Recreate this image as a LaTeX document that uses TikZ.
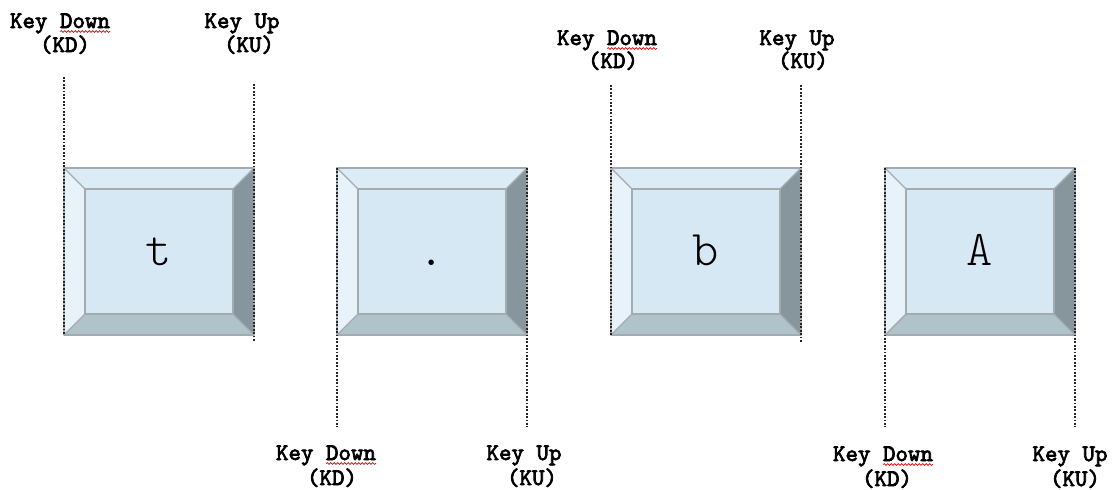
\documentclass[tikz,border=0pt]{standalone}
\usepackage{fontspec}
\usetikzlibrary{decorations.pathmorphing}

\newfontfamily\lblfont{lmmono10-regular.otf}[FakeBold=3]
\newfontfamily\glyphfont{lmmonolt10-regular.otf}

\definecolor{bevtop}{HTML}{DCECF6}
\definecolor{bevleft}{HTML}{E7F2FA}
\definecolor{bevright}{HTML}{87959C}
\definecolor{bevbottom}{HTML}{B1C3CA}
\definecolor{keyface}{HTML}{D5E8F4}
\definecolor{keyedge}{HTML}{A3ABAF}
\definecolor{guideink}{HTML}{262626}

\tikzset{
  bevel/.style={draw=keyedge, line width=1.4pt, line join=round},
  guide/.style={draw=guideink, line width=1.6pt, dash pattern=on 1.7pt off 1.7pt},
  lbl/.style={font=\lblfont\fontsize{23.8}{26}\selectfont, inner sep=0pt, anchor=base},
  keyglyph/.style={font=\glyphfont\fontsize{50}{50}\selectfont, inner sep=0pt, anchor=base},
  spell/.style={draw=red!85!black, line width=0.7pt, decorate,
    decoration={snake, amplitude=0.9pt, segment length=3.5pt}}
}

% one bevelled key: #1 name, #2 left edge, #3 glyph
\newcommand\keycap[3]{%
  \begin{scope}[shift={(#2,168)}]
    \coordinate (#1-tl) at (0,0);
    \coordinate (#1-tr) at (190,0);
    \coordinate (#1-bl) at (0,167);
    \coordinate (#1-br) at (190,167);
    \fill[bevtop] (0,0) -- (190,0) -- (169,21) -- (21,21) -- cycle;
    \fill[bevleft] (0,0) -- (21,21) -- (21,146) -- (0,167) -- cycle;
    \fill[bevright] (190,0) -- (190,167) -- (169,146) -- (169,21) -- cycle;
    \fill[bevbottom] (0,167) -- (190,167) -- (169,146) -- (21,146) -- cycle;
    \fill[keyface] (21,21) rectangle (169,146);
    \draw[bevel] (0,0) rectangle (190,167);
    \draw[bevel] (21,21) rectangle (169,146);
    \draw[bevel] (0,0) -- (21,21) (190,0) -- (169,21)
                 (0,167) -- (21,146) (190,167) -- (169,146);
    \node[keyglyph] (#1-glyph) at (95,97) {#3};
  \end{scope}}

% two-line label: #1 name, (#2,#3) first line, (#4,#5) second line, #6 word, #7 abbreviation
\newcommand\keylabel[7]{%
  \node[lbl] (#1-a) at (#2,#3) {Key #6};
  \node[lbl] (#1-b) at (#4,#5) {(#7)};}

% wavy mark under the last four letters of a "Key Down" line
\newcommand\downmark[1]{%
  \draw[spell] ([shift={(-50,3.5)}]#1.base east) -- ([shift={(0,3.5)}]#1.base east);}

\begin{document}
\begin{tikzpicture}[x=1pt, y=-1pt]
  \useasboundingbox (0,0) rectangle (1112,490);

  \keycap{k1}{64}{t}
  \keycap{k2}{337}{.}
  \keycap{k3}{611}{b}
  \keycap{k4}{885}{A}

  % labels above keys 1 and 3
  \keylabel{d1}{60}{28}{65}{52}{Down}{KD}
  \keylabel{u1}{242}{28}{249}{52}{Up}{KU}
  \keylabel{d3}{607}{45}{613}{68}{Down}{KD}
  \keylabel{u3}{797}{45}{803}{68}{Up}{KU}
  % labels below keys 2 and 4
  \keylabel{d2}{326}{460}{332}{485}{Down}{KD}
  \keylabel{u2}{524}{460}{532}{485}{Up}{KU}
  \keylabel{d4}{883}{461}{887}{486}{Down}{KD}
  \keylabel{u4}{1070}{461}{1075}{486}{Up}{KU}

  \downmark{d1-a}
  \downmark{d3-a}
  \downmark{d2-a}
  \downmark{d4-a}

  % timing guides
  \coordinate (g1d) at (64,77);
  \coordinate (g1u) at (254,84);
  \coordinate (g1ue) at (254,342);
  \coordinate (g3d) at (611,85);
  \coordinate (g3u) at (801,85);
  \coordinate (g3ue) at (801,342);
  \coordinate (g2d) at (337,427);
  \coordinate (g2u) at (527,427);
  \coordinate (g4d) at (885,427);
  \coordinate (g4u) at (1075,427);

  \draw[guide] (g1d) -- (k1-bl);
  \draw[guide] (g1u) -- (g1ue);
  \draw[guide] (g3d) -- (k3-bl);
  \draw[guide] (g3u) -- (g3ue);
  \draw[guide] (k2-tl) -- (g2d);
  \draw[guide] (k2-tr) -- (g2u);
  \draw[guide] (k4-tl) -- (g4d);
  \draw[guide] (k4-tr) -- (g4u);
\end{tikzpicture}
\end{document}
